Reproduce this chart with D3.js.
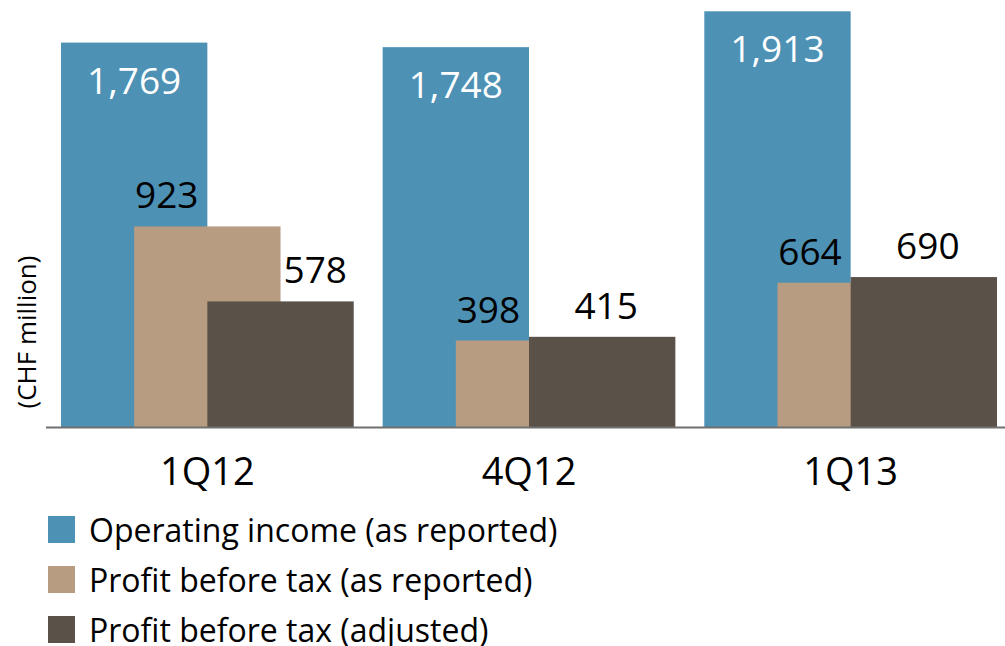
<!DOCTYPE html>
<html><head><meta charset="utf-8">
<script src="https://cdn.jsdelivr.net/npm/d3@7"></script>
<style>
html,body{margin:0;padding:0;background:#fff;}
svg{display:block;font-family:"Open Sans","Noto Sans",sans-serif;}
</style></head><body>
<svg id="chart" width="1005" height="646"></svg>
<script>
const categories = ["1Q12", "4Q12", "1Q13"];
const seriesNames = ["Operating income (as reported)", "Profit before tax (as reported)", "Profit before tax (adjusted)"];
const operatingIncome = [1769, 1748, 1913];
const profitReported = [923, 398, 664];
const profitAdjusted = [578, 415, 690];
const colors = ["#4d91b5", "#b89c82", "#5a5148"];
const yLabel = "(CHF million)";
const fmt = d3.format(",");

const svg = d3.select("#chart");
const baseY = 427;
const x = d3.scaleBand().domain(categories).range([61, 997]).paddingInner(0.09).paddingOuter(0);
const y = d3.scaleLinear().domain([0, 1965]).range([baseY, 0]);
const bw = x.bandwidth();
const sub = d3.scaleLinear().domain([0, 2]).range([0, bw / 2]);
const barW = bw / 2;

const series = [operatingIncome, profitReported, profitAdjusted];
series.forEach((vals, si) => {
  svg.append("g").selectAll("rect").data(vals).join("rect")
    .attr("x", (d, i) => x(categories[i]) + sub(si))
    .attr("y", d => y(d))
    .attr("width", barW)
    .attr("height", d => baseY - y(d))
    .attr("fill", colors[si]);
});

// axis line
svg.append("line").attr("x1", 46).attr("x2", 1005).attr("y1", baseY + 0.5).attr("y2", baseY + 0.5)
  .attr("stroke", "#707070").attr("stroke-width", 2);

const fs = 37;
// blue labels inside
svg.append("g").selectAll("text").data(operatingIncome).join("text")
  .attr("x", (d, i) => x(categories[i]) + sub(0) + barW / 2)
  .attr("y", d => y(d) + 51)
  .attr("text-anchor", "middle").attr("font-size", fs).attr("fill", "#fff")
  .text(d => fmt(d));
// tan labels
svg.append("g").selectAll("text").data(profitReported).join("text")
  .attr("x", (d, i) => x(categories[i]) + sub(1) + barW / 4 - 4)
  .attr("y", d => y(d) - 18)
  .attr("text-anchor", "middle").attr("font-size", fs).attr("fill", "#000")
  .text(d => fmt(d));
// dark labels
svg.append("g").selectAll("text").data(profitAdjusted).join("text")
  .attr("x", (d, i) => profitReported[i] > d
      ? x(categories[i]) + sub(1) + barW + 3
      : x(categories[i]) + sub(2) + barW / 2 + 4)
  .attr("text-anchor", (d, i) => profitReported[i] > d ? "start" : "middle")
  .attr("y", d => y(d) - 18)
  .attr("font-size", fs).attr("fill", "#000")
  .text(d => fmt(d));

// category axis
const ax = svg.append("g").attr("transform", `translate(0,${baseY})`)
  .call(d3.axisBottom(x).tickSize(0).tickPadding(0));
ax.select(".domain").remove();
ax.selectAll("text").attr("font-size", 38).attr("fill", "#000")
  .attr("font-family", "Open Sans, Noto Sans, sans-serif").attr("dy", null).attr("y", 58);

// y label
svg.append("text").attr("transform", "translate(36,332) rotate(-90)")
  .attr("text-anchor", "middle").attr("font-size", 26).attr("fill", "#000").text(yLabel);

// legend
const lg = svg.append("g").selectAll("g").data(seriesNames).join("g")
  .attr("transform", (d, i) => `translate(48,${516 + i * 50})`);
lg.append("rect").attr("width", 27).attr("height", 27).attr("fill", (d, i) => colors[i]);
lg.append("text").attr("x", 41).attr("y", 26).attr("font-size", 32).attr("fill", "#000").text(d => d);
</script></body></html>
